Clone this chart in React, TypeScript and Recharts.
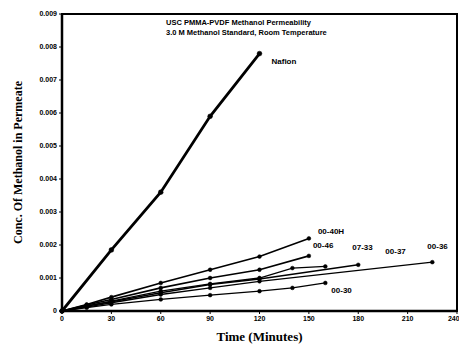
import React from 'react'
import {
  LineChart,
  Line,
  XAxis,
  YAxis,
  ReferenceArea,
  LabelList,
} from 'recharts'

// Time (minutes) and permeate concentration for each membrane
const nafionTime = [0, 30, 60, 90, 120]
const nafionConc = [0, 0.00185, 0.0036, 0.0059, 0.0078]

const m4040hTime = [0, 15, 30, 60, 90, 120, 150]
const m4040hConc = [0, 0.0002, 0.00042, 0.00085, 0.00125, 0.00165, 0.0022]

const m46Time = [0, 15, 30, 60, 90, 120, 150]
const m46Conc = [0, 0.00018, 0.00035, 0.0007, 0.001, 0.00125, 0.00167]

const m37Time = [0, 15, 30, 60, 90, 120, 140, 160]
const m37Conc = [0, 0.00015, 0.0003, 0.0006, 0.00082, 0.001, 0.0013, 0.00135]

const m0733Time = [0, 15, 30, 60, 90, 120, 180]
const m0733Conc = [0, 0.00015, 0.00028, 0.00055, 0.0008, 0.00097, 0.0014]

const m36Time = [0, 15, 30, 60, 90, 120, 225]
const m36Conc = [0, 0.00012, 0.00025, 0.0005, 0.0007, 0.0009, 0.00148]

const m30Time = [0, 15, 30, 60, 90, 120, 140, 160]
const m30Conc = [0, 0.0001, 0.0002, 0.00035, 0.00048, 0.0006, 0.0007, 0.00085]

const xTicks = [0, 30, 60, 90, 120, 150, 180, 210, 240]
const yTicks = [0, 0.001, 0.002, 0.003, 0.004, 0.005, 0.006, 0.007, 0.008, 0.009]

const zip = (t: number[], c: number[]) => t.map((x, i) => ({ time: x, conc: c[i] }))

const series = [
  { name: 'Nafion', data: zip(nafionTime, nafionConc), width: 2.8, r: 2.4, dx: 12, dy: 10 },
  { name: '00-40H', data: zip(m4040hTime, m4040hConc), width: 1.6, r: 1.9, dx: 9, dy: -4 },
  { name: '00-46', data: zip(m46Time, m46Conc), width: 1.6, r: 1.9, dx: 4, dy: -8 },
  { name: '07-33', data: zip(m0733Time, m0733Conc), width: 1.5, r: 1.9, dx: -6, dy: -15 },
  { name: '00-37', data: zip(m37Time, m37Conc), width: 1.3, r: 1.9, dx: 60, dy: -12 },
  { name: '00-36', data: zip(m36Time, m36Conc), width: 1.3, r: 1.9, dx: -5, dy: -13 },
  { name: '00-30', data: zip(m30Time, m30Conc), width: 1.3, r: 1.9, dx: 6, dy: 10 },
]

const sans = '"Liberation Sans", Arial, sans-serif'
const serif = '"Liberation Serif", "Times New Roman", serif'

function makeLabel(name: string, last: number, dx: number, dy: number) {
  return (props: any) => {
    if (props.index !== last) return null
    return (
      <text
        x={props.x + dx}
        y={props.y + dy}
        fontFamily={sans}
        fontWeight="bold"
        fontSize={8}
        fill="#000"
      >
        {name}
      </text>
    )
  }
}

export default function App() {
  const tickStyle = { fontFamily: sans, fontWeight: 'bold', fontSize: 7, fill: '#000' }
  return (
    <div style={{ position: 'absolute', left: 0, top: 0, width: 459, height: 346, background: '#fff' }}>
      <LineChart width={459} height={346} margin={{ top: 14, right: 2, bottom: 0, left: 0 }}>
        <XAxis
          type="number"
          dataKey="time"
          domain={[0, 240]}
          ticks={xTicks}
          allowDuplicatedCategory={false}
          axisLine={{ stroke: '#000', strokeWidth: 2.5 }}
          tickLine={{ stroke: '#000' }}
          tickSize={3}
          tick={tickStyle}
          height={35}
          label={{
            value: 'Time (Minutes)',
            position: 'insideBottom',
            offset: 5,
            style: { fontFamily: serif, fontWeight: 'bold', fontSize: 13, fill: '#000' },
          }}
        />
        <YAxis
          type="number"
          domain={[0, 0.009]}
          ticks={yTicks}
          interval={0}
          width={62}
          axisLine={{ stroke: '#000', strokeWidth: 2.5 }}
          tickLine={{ stroke: '#000' }}
          tickSize={3}
          tick={tickStyle}
          label={{
            value: 'Conc. Of Methanol in Permeate',
            angle: -90,
            position: 'insideLeft',
            offset: 18,
            style: { textAnchor: 'middle', fontFamily: serif, fontWeight: 'bold', fontSize: 12, fill: '#000' },
          }}
        />
        <ReferenceArea x1={0} x2={240} y1={0} y2={0.009} fill="none" stroke="#000" strokeWidth={2} />
        {series.map((s) => (
          <Line
            key={s.name}
            data={s.data}
            dataKey="conc"
            stroke="#000"
            strokeWidth={s.width}
            dot={{ r: s.r, fill: '#000', stroke: '#000', strokeWidth: 0.5 }}
            isAnimationActive={false}
          >
            <LabelList dataKey="conc" content={makeLabel(s.name, s.data.length - 1, s.dx, s.dy)} />
          </Line>
        ))}
      </LineChart>
      <div
        style={{
          position: 'absolute',
          left: 166,
          top: 18,
          fontFamily: sans,
          fontWeight: 'bold',
          fontSize: 7.5,
          lineHeight: '10px',
          color: '#000',
          whiteSpace: 'nowrap',
        }}
      >
        <div>USC PMMA-PVDF Methanol Permeability</div>
        <div>3.0 M Methanol Standard, Room Temperature</div>
      </div>
    </div>
  )
}
